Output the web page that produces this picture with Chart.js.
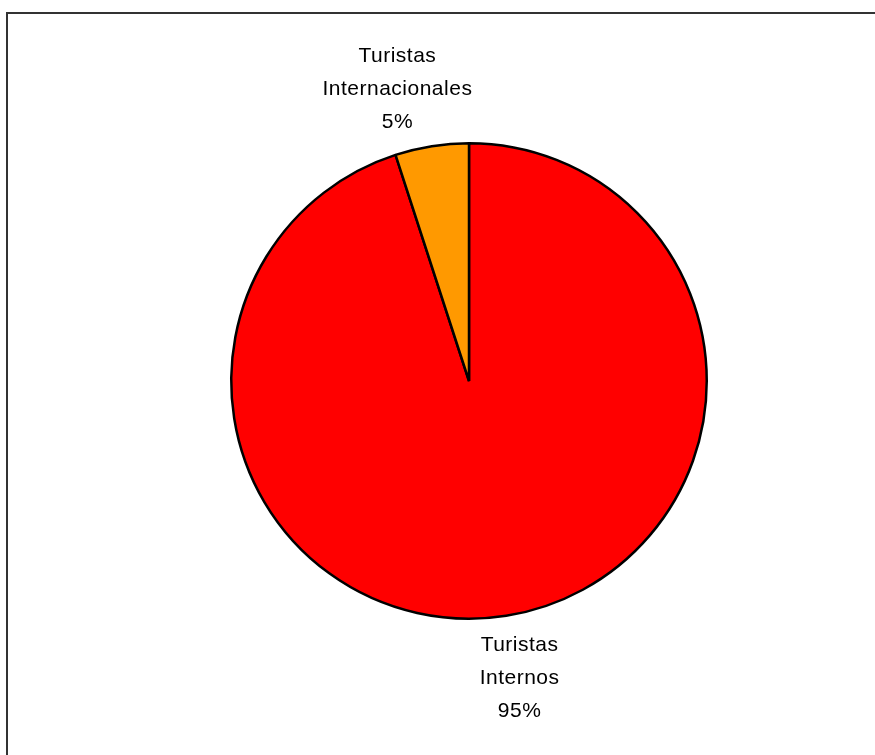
<!DOCTYPE html>
<html>
<head>
<meta charset="utf-8">
<script src="https://cdn.jsdelivr.net/npm/chart.js@4/dist/chart.umd.min.js"></script>
<style>
  html, body { margin: 0; padding: 0; background: #fff; overflow: hidden; }
  #frame { position: absolute; left: 6px; top: 12px; width: 1000px; height: 1000px; border: 2px solid #333; box-sizing: border-box; }
  #wrap { position: absolute; left: 0; top: 0; width: 875px; height: 755px; }
</style>
</head>
<body>
<div id="frame"></div>
<div id="wrap"><canvas id="c"></canvas></div>
<script>
const categories = ["Turistas\nInternos", "Turistas\nInternacionales"];
const values = [95, 5];
const percentLabels = ["95%", "5%"];
const sliceColors = ["#FF0000", "#FF9900"];

const labelPlugin = {
  id: 'sliceLabels',
  afterDatasetsDraw(chart, args, opts) {
    const ctx = chart.ctx;
    const meta = chart.getDatasetMeta(0);
    ctx.save();
    ctx.font = opts.font;
    ctx.fillStyle = '#000';
    ctx.textAlign = 'center';
    ctx.textBaseline = 'middle';
    if ('letterSpacing' in ctx) ctx.letterSpacing = opts.letterSpacing;
    meta.data.forEach((arc, i) => {
      const mid = (arc.startAngle + arc.endAngle) / 2;
      const r = arc.outerRadius + opts.offset;
      const x = arc.x + Math.cos(mid) * r + (opts.nudgeX[i] || 0);
      const y = arc.y + Math.sin(mid) * r + (opts.nudgeY[i] || 0);
      const lines = chart.data.labels[i].split('\n').concat([percentLabels[i]]);
      const n = lines.length;
      lines.forEach((t, k) => {
        ctx.fillText(t, x, y + (k - (n - 1) / 2) * opts.lineHeight);
      });
    });
    ctx.restore();
  }
};

new Chart(document.getElementById('c'), {
  type: 'pie',
  data: {
    labels: categories,
    datasets: [{
      data: values,
      backgroundColor: sliceColors,
      borderColor: '#000',
      borderWidth: 2.5,
      borderAlign: 'center'
    }]
  },
  options: {
    responsive: true,
    maintainAspectRatio: false,
    animation: false,
    layout: { padding: { left: 230, right: 167, top: 142, bottom: 135 } },
    plugins: {
      legend: { display: false },
      tooltip: { enabled: false },
      title: { display: false },
      sliceLabels: {
        font: '21px "Liberation Sans", Arial, sans-serif',
        letterSpacing: '0.5px',
        lineHeight: 33,
        offset: 60,
        nudgeX: [4, -25],
        nudgeY: [3, 2]
      }
    }
  },
  plugins: [labelPlugin]
});
</script>
</body>
</html>
